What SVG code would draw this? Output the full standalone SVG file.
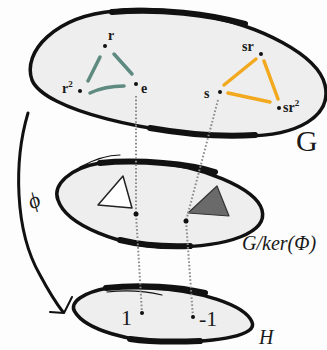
<svg xmlns="http://www.w3.org/2000/svg" width="327" height="350" viewBox="0 0 327 350">
<style>
.blob{fill:#eeeeee;stroke:#111;stroke-width:3.5;stroke-linejoin:round}
.thick{fill:none;stroke:#111;stroke-width:6;stroke-linecap:round}
.thin{fill:none;stroke:#111;stroke-width:1.2;stroke-linecap:round}
.lbl{font-family:"Liberation Serif","DejaVu Serif",serif;fill:#1a1a1a}
.sm{font-size:14px;font-weight:bold}
.it{font-style:italic}
.pt{fill:#111}
.g{stroke:#5e8a80;stroke-width:3.5;stroke-linecap:round;fill:none}
.o{stroke:#f2a91e;stroke-width:3.5;stroke-linecap:round;fill:none}
.dot{fill:none;stroke:#8a8a8a;stroke-width:2;stroke-dasharray:1.6 2}
</style>
<rect width="327" height="350" fill="#fdfdfd"/>
<g id="G">
<path class="blob" d="M115,11 C55,16 22,52 32,80 C44,110 150,135 240,136 C300,137 332,115 325,85 C318,55 260,25 200,15 C160,9 130,9 115,11 Z"/>
<path class="thick" d="M112,12 C160,8 210,14 245,24"/>
<path class="thick" d="M150,128 C190,135 225,137 255,135" stroke-width="4.5"/>
<text class="lbl" x="296" y="151" font-size="30">G</text>
</g>
<g id="Gker">
<path class="blob" d="M100,163 C70,168 52,185 58,200 C66,225 120,247 170,247 C230,247 268,232 262,210 C256,188 200,165 150,162 C130,161 110,161 100,163 Z"/>
<path class="thick" d="M100,163 C140,159 190,164 215,172"/>
<path class="thick" d="M120,240 C145,246 165,247 190,246" stroke-width="4.5"/>
<path class="thin" d="M80,167 C95,159 108,155 120,155"/>
<polygon points="98,205 123,176 132,208" fill="#fff" stroke="#222" stroke-width="1.5" stroke-linejoin="round"/>
<polygon points="188,213 217,186 229,216" fill="#6a6a6a" stroke="#333" stroke-width="1.2" stroke-linejoin="round"/>
<text class="lbl it" x="242" y="250" font-size="20">G/ker(Φ)</text>
</g>
<g id="H">
<path class="blob" d="M108,288 C85,292 68,302 75,312 C86,330 130,342 170,342 C220,342 258,335 252,322 C245,305 200,290 150,288 C130,287 115,287 108,288 Z"/>
<path class="thick" d="M106,288 C140,284 180,287 205,293"/>
<path class="thick" d="M130,339 C150,342 175,342 200,341" stroke-width="4.5"/>
<path class="thin" d="M107,292 C125,290 145,291 162,295"/>
<text class="lbl it" x="259" y="344" font-size="20">H</text>
</g>
<g id="connectors">
<path class="dot" d="M136,96 L136,214 L142,313"/>
<path class="dot" d="M218,100 L186,221 L193,317"/>
<path d="M28,113 C14,160 14,230 40,275 C48,290 56,303 63,312" fill="none" stroke="#111" stroke-width="3" stroke-linecap="round"/>
<path d="M50,312 L64,313 L72,297" fill="none" stroke="#111" stroke-width="2" stroke-linecap="round" stroke-linejoin="round"/>
<text class="lbl it" x="0" y="0" font-size="22" transform="translate(37,207) rotate(-25)" text-anchor="middle">ϕ</text>
</g>
<g id="rot">
<path class="g" d="M100,57 L88,81"/>
<path class="g" d="M114,54 L132,74"/>
<path class="g" d="M90,93 Q105,86 124,86"/>
</g>
<g id="refl">
<path class="o" d="M256,59 L224,85"/>
<path class="o" d="M228,93 L270,102"/>
<path class="o" d="M264,61 L278,99"/>
</g>
<g id="nodes">
<g id="n-r"><circle class="pt" cx="105" cy="46" r="2"/><text class="lbl sm" x="108" y="40">r</text></g>
<g id="n-r2"><circle class="pt" cx="80" cy="91" r="2"/><text class="lbl sm" x="62" y="93">r<tspan dy="-6" font-size="9">2</tspan></text></g>
<g id="n-e"><circle class="pt" cx="136" cy="84" r="2"/><text class="lbl sm" x="141" y="93">e</text></g>
<g id="n-sr"><circle class="pt" cx="261" cy="54" r="2"/><text class="lbl sm" x="242" y="51">sr</text></g>
<g id="n-s"><circle class="pt" cx="220" cy="92" r="2"/><text class="lbl sm" x="204" y="98">s</text></g>
<g id="n-sr2"><circle class="pt" cx="279" cy="108" r="2"/><text class="lbl sm" x="283" y="112">sr<tspan dy="-6" font-size="9">2</tspan></text></g>
<g id="n-c1"><circle class="pt" cx="136" cy="214" r="2.5"/></g>
<g id="n-c2"><circle class="pt" cx="186" cy="221" r="2.5"/></g>
<g id="n-1"><circle class="pt" cx="142" cy="313" r="2"/><text class="lbl" x="121" y="325" font-size="22">1</text></g>
<g id="n-m1"><circle class="pt" cx="193" cy="317" r="2"/><text class="lbl" x="199" y="326" font-size="22">-1</text></g>
</g>
</svg>
